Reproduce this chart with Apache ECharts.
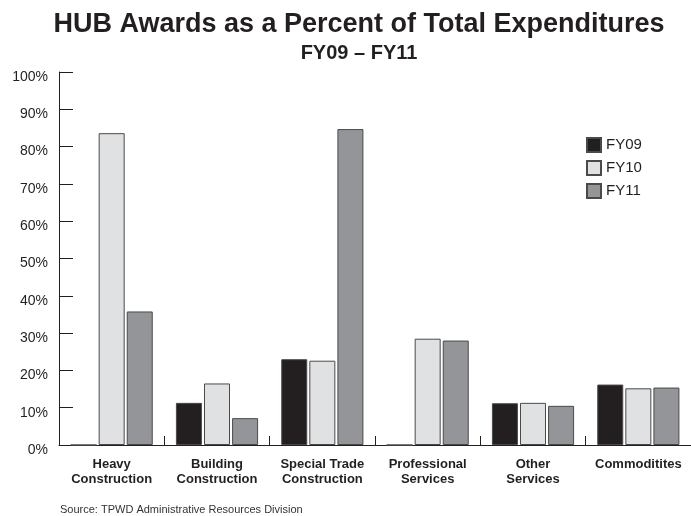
<!DOCTYPE html>
<html><head><meta charset="utf-8">
<script src="https://cdn.jsdelivr.net/npm/echarts@6/dist/echarts.min.js"></script>
<style>html,body{margin:0;padding:0;background:#fff}#c{width:691px;height:516px}</style>
</head><body><div id="c"></div>
<script>
const categories = ['Heavy\nConstruction','Building\nConstruction','Special Trade\nConstruction','Professional\nServices','Other\nServices','Commoditites'];
const seriesNames = ['FY09','FY10','FY11'];
const fy09 = [0, 11.3, 23.0, 0, 11.2, 16.2];
const fy10 = [83.6, 16.5, 22.6, 28.5, 11.3, 15.2];
const fy11 = [35.8, 7.2, 84.7, 28.0, 10.5, 15.4];
const colors = ['#231f20','#e0e1e3','#939598'];
const values = [fy09, fy10, fy11];

const chart = echarts.init(document.getElementById('c'), null, {renderer:'canvas'});
chart.setOption({
  animation:false,
  backgroundColor:'#fff',
  title:[
    {text:'HUB Awards as a Percent of Total Expenditures', left:354, top:6, textAlign:'center',
     textStyle:{fontFamily:'"Liberation Sans",Arial,sans-serif', fontWeight:'bold', fontSize:27, color:'#231f20'}},
    {text:'FY09 – FY11', left:354, top:38, textAlign:'center',
     textStyle:{fontFamily:'"Liberation Sans",Arial,sans-serif', fontWeight:'bold', fontSize:20, color:'#231f20'}}
  ],
  legend:{orient:'vertical', left:581, top:132, itemWidth:14, itemHeight:14, itemGap:7, icon:'rect',
    data:seriesNames, textStyle:{fontFamily:'"Liberation Sans",Arial,sans-serif', fontSize:15, color:'#231f20'}},
  grid:{left:59, top:72, bottom:71, width:635},
  xAxis:{type:'category', data:categories,
    axisLine:{lineStyle:{color:'#231f20', width:1}},
    axisTick:{show:true, inside:true, length:9, lineStyle:{color:'#231f20'}},
    axisLabel:{fontFamily:'"Liberation Sans",Arial,sans-serif', fontWeight:'bold', fontSize:13, color:'#231f20', lineHeight:15, margin:12, interval:0}},
  yAxis:{type:'value', min:0, max:100, interval:10,
    axisLine:{show:true, lineStyle:{color:'#231f20', width:1}},
    axisTick:{show:true, inside:true, length:14, lineStyle:{color:'#231f20'}},
    splitLine:{show:false},
    axisLabel:{formatter:v => '{a|' + v + '%}', margin:11,
      rich:{a:{fontFamily:'"Liberation Sans",Arial,sans-serif', fontSize:14, color:'#231f20', padding:[10,0,0,0]}}}},
  graphic:[{type:'text', left:60, top:504, style:{text:'Source: TPWD Administrative Resources Division', fontFamily:'"Liberation Sans",Arial,sans-serif', fontSize:11, fill:'#333'}}],
  series: seriesNames.map((n,i)=>({name:n, type:'bar', data:values[i], barWidth:26, barGap:'8%',
    itemStyle:{color:colors[i], borderColor:'#4a4a4a', borderWidth:1}}))
});
</script></body></html>
